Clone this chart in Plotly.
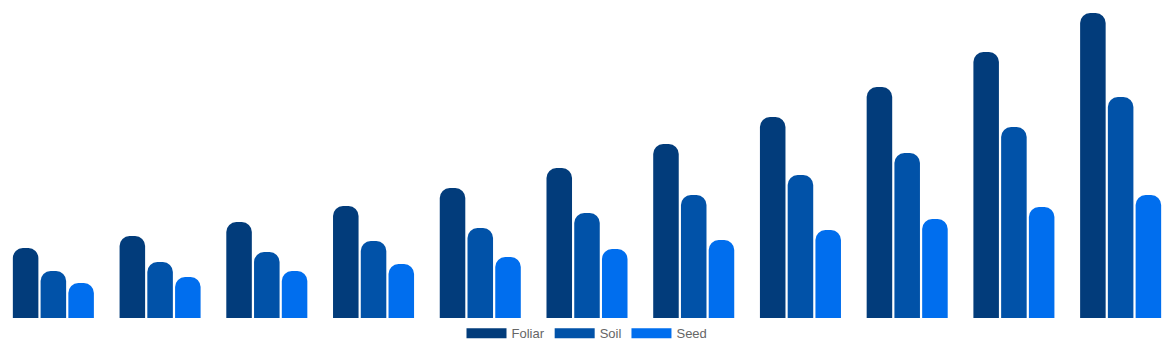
import plotly.graph_objects as go

categories = ["G1", "G2", "G3", "G4", "G5", "G6", "G7", "G8", "G9", "G10", "G11"]
series_names = ["Foliar", "Soil", "Seed"]
foliar = [70, 82, 96, 112, 130, 150, 174, 201, 231, 266, 305]
soil = [47, 56, 66, 77, 90, 105, 123, 143, 165, 191, 221]
seed = [35, 41, 47, 54, 61, 69, 78, 88, 99, 111, 123]
colors = ["#023C7B", "#0152A8", "#006EEE"]

fig = go.Figure()
for name, vals, col in zip(series_names, [foliar, soil, seed], colors):
    fig.add_trace(go.Bar(x=categories, y=vals, name=name, marker=dict(color=col, cornerradius=10, line=dict(width=0)),
                         showlegend=False))
    fig.add_trace(go.Scatter(x=[None], y=[None], mode="lines", name=name,
                             line=dict(color=col, width=13), showlegend=True, hoverinfo="skip"))

fig.update_layout(
    width=1174, height=350,
    margin=dict(l=0, r=0, t=13, b=32),
    paper_bgcolor="white", plot_bgcolor="white",
    barmode="group", bargap=0.22, bargroupgap=0.08,
    xaxis=dict(visible=False),
    yaxis=dict(visible=False, range=[0, 305]),
    font=dict(family="Liberation Sans, Arial, sans-serif", size=13, color="#666666"),
    legend=dict(orientation="h", x=0.5, xanchor="center", y=-0.05, yanchor="middle",
                itemwidth=40, font=dict(size=13, color="#666666"), bgcolor="rgba(0,0,0,0)"),
    showlegend=True,
)
fig.write_html("out.html")
